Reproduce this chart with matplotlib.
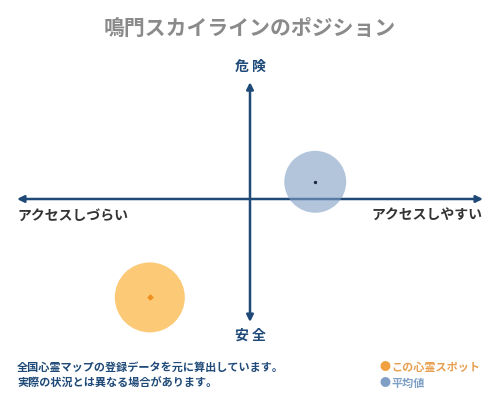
import matplotlib.pyplot as plt

plt.rcParams['font.family'] = ['Noto Sans CJK JP', 'DejaVu Sans']

# データ
title = '鳴門スカイラインのポジション'
x_labels = ['アクセスしづらい', 'アクセスしやすい']
y_labels = ['安 全', '危 険']
spot_xy = (-0.43, -0.80)   # この心霊スポット
avg_xy = (0.28, 0.14)      # 平均値
notes = ['全国心霊マップの登録データを元に算出しています。',
         '実際の状況とは異なる場合があります。']
legend_labels = ['この心霊スポット', '平均値']

navy = '#1f4a78'
orange = '#fbb748'
blue = '#7f9fc4'

fig = plt.figure(figsize=(5, 4), dpi=100)
# 軸の領域：x 17..483px, y 76..322px
ax = fig.add_axes([17/500, (400-322)/400, 466/500, 246/400])
ax.set_xlim(-1, 1)
ax.set_ylim(-1, 1)
ax.axis('off')

# 十字の矢印
ax.annotate('', xy=(1, 0), xytext=(-1, 0),
            arrowprops=dict(arrowstyle='<|-|>', color=navy, lw=1.8, mutation_scale=10, shrinkA=0, shrinkB=0))
ax.annotate('', xy=(0, 0.95), xytext=(0, -1),
            arrowprops=dict(arrowstyle='<|-|>', color=navy, lw=1.8, mutation_scale=10, shrinkA=0, shrinkB=0))

# 円
ax.scatter([avg_xy[0]], [avg_xy[1]], s=1990, color=blue, alpha=0.6, edgecolors='none', zorder=3, clip_on=False)
ax.scatter([avg_xy[0]], [avg_xy[1]], s=2, color='#1a2a40', zorder=4, clip_on=False)
ax.scatter([spot_xy[0]], [spot_xy[1]], s=2540, color=orange, alpha=0.75, edgecolors='none', zorder=3, clip_on=False)
ax.scatter([spot_xy[0]], [spot_xy[1]], s=6, color='#f09020', marker='D', zorder=4, clip_on=False)

# ラベル
fig.text(250/500, 1-28/400, title, ha='center', va='center', fontsize=15, color='#8a8a8a', fontweight='bold')
fig.text(250/500, 1-67/400, y_labels[1], ha='center', va='center', fontsize=10, color=navy, fontweight='bold')
fig.text(250/500, 1-336/400, y_labels[0], ha='center', va='center', fontsize=10, color=navy, fontweight='bold')
fig.text(17/500, 1-216/400, x_labels[0], ha='left', va='center', fontsize=10, color='#333333', fontweight='bold')
fig.text(482/500, 1-216/400, x_labels[1], ha='right', va='center', fontsize=10, color='#333333', fontweight='bold')

# 注記
fig.text(17/500, 1-367/400, notes[0], ha='left', va='center', fontsize=8, color=navy, fontweight='bold')
fig.text(17/500, 1-383/400, notes[1], ha='left', va='center', fontsize=8, color=navy, fontweight='bold')

# 凡例
fig.text(379/500, 1-367/400, '●', ha='left', va='center', fontsize=8, color='#f0a040')
fig.text(391/500, 1-367/400, legend_labels[0], ha='left', va='center', fontsize=8, color='#e8a050', fontweight='bold')
fig.text(379/500, 1-383/400, '●', ha='left', va='center', fontsize=8, color=blue)
fig.text(391/500, 1-383/400, legend_labels[1], ha='left', va='center', fontsize=8, color=blue, fontweight='bold')

fig.savefig('out.png', dpi=100)
